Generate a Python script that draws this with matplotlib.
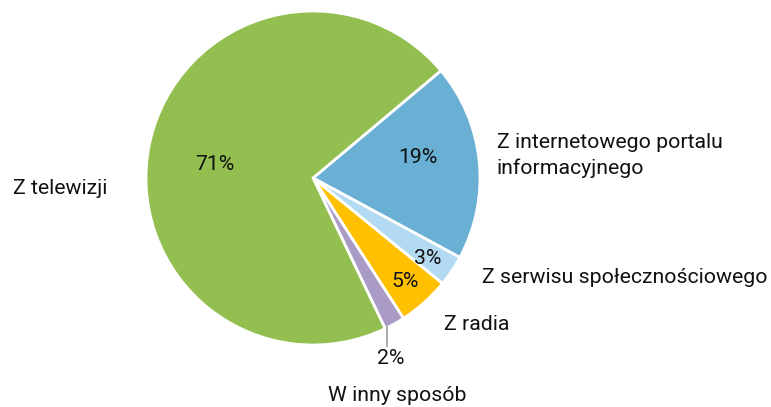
import matplotlib
matplotlib.use("Agg")
import matplotlib.pyplot as plt

categories = ["Z internetowego portalu\ninformacyjnego", "Z serwisu społecznościowego",
              "Z radia", "W inny sposób", "Z telewizji"]
values = [19, 3, 5, 2, 71]
pct_labels = ["19%", "3%", "5%", "2%", "71%"]
colors = ["#6AAFD4", "#B2DAF2", "#FFC000", "#A99AC6", "#93BF50"]

plt.rcParams['font.family'] = ['Roboto', 'DejaVu Sans']

W, H = 771, 407
fig = plt.figure(figsize=(W/100, H/100), dpi=100)
cx, cy, r = 313, 178, 167
ax = fig.add_axes([(cx - r)/W, (H - cy - r)/H, 2*r/W, 2*r/H])
ax.pie(values, colors=colors, startangle=40, counterclock=False, radius=1,
       wedgeprops=dict(edgecolor="white", linewidth=2))
ax.set_xlim(-1, 1); ax.set_ylim(-1, 1)
ax.set_aspect("equal")
ax.axis("off")

fs = 15.3
# category labels (positions in data coords)
cat_pos = [(1.10, 0.135, "left"), (1.01, -0.593, "left"), (0.784, -0.88, "left"),
           (0.503, -1.30, "center"), (-1.796, -0.06, "left")]
for lab, (x, y, ha) in zip(categories, cat_pos):
    ax.text(x, y, lab, ha=ha, va="center", fontsize=fs, color="#111111",
            linespacing=1.36, clip_on=False)

pct_pos = [(0.629, 0.12), (0.689, -0.485), (0.551, -0.617), (0.467, -1.078), (-0.587, 0.08)]
for lab, (x, y) in zip(pct_labels, pct_pos):
    ax.text(x, y, lab, ha="center", va="center", fontsize=fs, color="#111111", clip_on=False)

# leader line for the small slice
ax.plot([0.443, 0.443], [-0.89, -1.005], color="#999999", lw=1.2, clip_on=False)

fig.savefig("out.png", dpi=100)
